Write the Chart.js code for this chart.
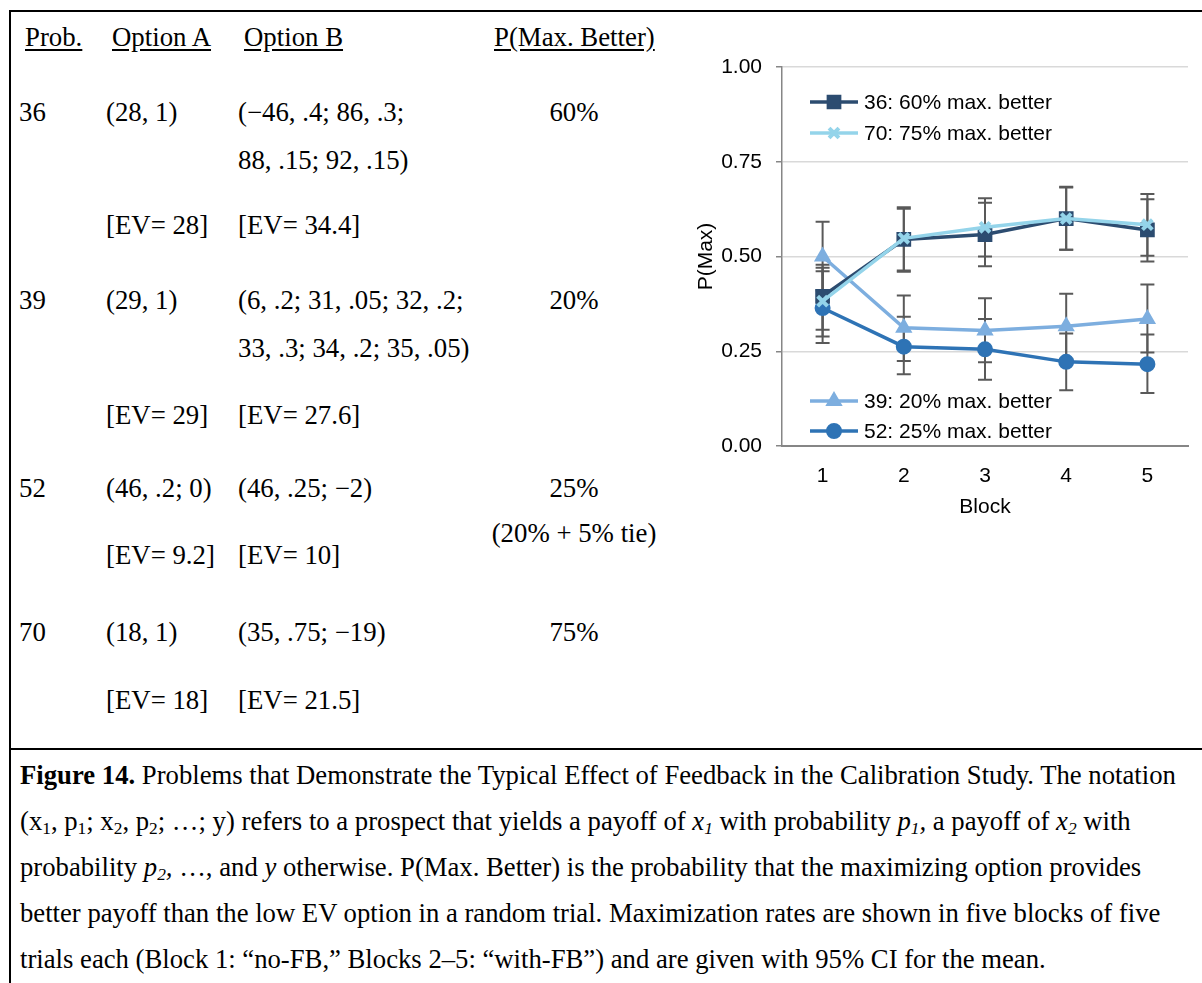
<!DOCTYPE html>
<html>
<head>
<meta charset="utf-8">
<script src="https://cdn.jsdelivr.net/npm/chart.js@4/dist/chart.umd.min.js"></script>
<style>
  body { margin: 0; background: #fff; width: 1202px; height: 983px; overflow: hidden; position: relative; }
  #frame { position: absolute; left: 9px; top: 10px; width: 1200px; height: 736px; border-left: 2px solid #000; border-top: 2px solid #000; border-bottom: 2px solid #000; }
  #capbox { position: absolute; left: 9px; top: 748px; width: 1200px; height: 240px; border-left: 2px solid #000; }
  .t { position: absolute; font-family: "Liberation Serif", "Times New Roman", serif; font-size: 26.8px; line-height: 36px; color: #000; white-space: nowrap; }
  .u { text-decoration: underline; text-underline-offset: 3px; }
  .c { transform: translateX(-50%); }
  #caption { position: absolute; left: 20px; top: 752px; font-family: "Liberation Serif", "Times New Roman", serif; font-size: 26.7px; line-height: 46px; color: #000; white-space: nowrap; }
  #caption sub { font-size: 0.65em; line-height: 0; vertical-align: -0.22em; }
  #chartBox { position: absolute; left: 690px; top: 40px; width: 512px; height: 490px; }
</style>
</head>
<body>
<div id="frame"></div>
<div id="capbox"></div>

<div class="t u" style="left:25px;top:19px">Prob.</div>
<div class="t u" style="left:112px;top:19px">Option A</div>
<div class="t u" style="left:244px;top:19px">Option B</div>
<div class="t u" style="left:494px;top:19px">P(Max. Better)</div>

<div class="t" style="left:19px;top:94px">36</div>
<div class="t" style="left:106px;top:94px">(28, 1)</div>
<div class="t" style="left:238px;top:94px">(&minus;46, .4; 86, .3;</div>
<div class="t c" style="left:574px;top:94px">60%</div>
<div class="t" style="left:238px;top:142px">88, .15; 92, .15)</div>
<div class="t" style="left:106px;top:207px">[EV= 28]</div>
<div class="t" style="left:238px;top:207px">[EV= 34.4]</div>

<div class="t" style="left:19px;top:282px">39</div>
<div class="t" style="left:106px;top:282px">(29, 1)</div>
<div class="t" style="left:238px;top:282px">(6, .2; 31, .05; 32, .2;</div>
<div class="t c" style="left:574px;top:282px">20%</div>
<div class="t" style="left:238px;top:330px">33, .3; 34, .2; 35, .05)</div>
<div class="t" style="left:106px;top:397px">[EV= 29]</div>
<div class="t" style="left:238px;top:397px">[EV= 27.6]</div>

<div class="t" style="left:19px;top:470px">52</div>
<div class="t" style="left:106px;top:470px">(46, .2; 0)</div>
<div class="t" style="left:238px;top:470px">(46, .25; &minus;2)</div>
<div class="t c" style="left:574px;top:470px">25%</div>
<div class="t c" style="left:574px;top:515px">(20% + 5% tie)</div>
<div class="t" style="left:106px;top:537px">[EV= 9.2]</div>
<div class="t" style="left:238px;top:537px">[EV= 10]</div>

<div class="t" style="left:19px;top:614px">70</div>
<div class="t" style="left:106px;top:614px">(18, 1)</div>
<div class="t" style="left:238px;top:614px">(35, .75; &minus;19)</div>
<div class="t c" style="left:574px;top:614px">75%</div>
<div class="t" style="left:106px;top:682px">[EV= 18]</div>
<div class="t" style="left:238px;top:682px">[EV= 21.5]</div>

<div id="caption"><b>Figure 14.</b> Problems that Demonstrate the Typical Effect of Feedback in the Calibration Study. The notation<br>(x<sub>1</sub>, p<sub>1</sub>; x<sub>2</sub>, p<sub>2</sub>; &hellip;; y) refers to a prospect that yields a payoff of <i>x<sub>1</sub></i> with probability <i>p<sub>1</sub>,</i> a payoff of <i>x<sub>2</sub></i> with<br>probability <i>p<sub>2</sub>,</i> &hellip;, and <i>y</i> otherwise. P(Max. Better) is the probability that the maximizing option provides<br>better payoff than the low EV option in a random trial. Maximization rates are shown in five blocks of five<br>trials each (Block 1: &ldquo;no-FB,&rdquo; Blocks 2&ndash;5: &ldquo;with-FB&rdquo;) and are given with 95% CI for the mean.</div>

<div id="chartBox"><canvas id="pmaxChart"></canvas></div>

<script>
// blocks on the x axis
const blocks = ['1', '2', '3', '4', '5'];
const yTicks = [0, 0.25, 0.5, 0.75, 1];

// series: mean P(Max) per block, with 95% CI bounds
const label36 = '36: 60% max. better';
const p36 = [0.395, 0.545, 0.558, 0.600, 0.570];
const lo36 = [0.307, 0.463, 0.474, 0.518, 0.487];
const hi36 = [0.478, 0.630, 0.642, 0.684, 0.651];

const label70 = '70: 75% max. better';
const p70 = [0.382, 0.548, 0.577, 0.600, 0.584];
const lo70 = [0.289, 0.460, 0.500, 0.518, 0.502];
const hi70 = [0.470, 0.626, 0.654, 0.682, 0.665];

const label39 = '39: 20% max. better';
const p39 = [0.500, 0.312, 0.305, 0.316, 0.335];
const lo39 = [0.410, 0.224, 0.221, 0.230, 0.247];
const hi39 = [0.592, 0.397, 0.390, 0.402, 0.426];

const label52 = '52: 25% max. better';
const p52 = [0.364, 0.262, 0.255, 0.222, 0.216];
const lo52 = [0.272, 0.189, 0.175, 0.147, 0.140];
const hi52 = [0.461, 0.341, 0.335, 0.297, 0.294];

// legend groups: top-left and bottom-left of the plot
const legendTop = [label36, label70];
const legendBottom = [label39, label52];

const col36 = '#2C4C70';
const col70 = '#94D4EA';
const col39 = '#7DAEDF';
const col52 = '#2E73B5';

const axisFont = { family: '"Liberation Sans", Arial, sans-serif', size: 21 };

function series(label, data, lo, hi, color, style, radius, bw) {
  return {
    label: label,
    data: data,
    lo: lo,
    hi: hi,
    borderColor: color,
    backgroundColor: color,
    borderWidth: 3.5,
    pointStyle: style,
    pointRadius: radius,
    pointBorderWidth: bw,
    pointBorderColor: color,
    pointBackgroundColor: color,
    tension: 0
  };
}

// draws the 95% CI whiskers under the lines
const errorBars = {
  id: 'errorBars',
  beforeDatasetsDraw(chart) {
    const ctx = chart.ctx;
    const xs = chart.scales.x, ys = chart.scales.y;
    ctx.save();
    ctx.strokeStyle = '#595959';
    ctx.lineWidth = 2;
    chart.data.datasets.forEach(ds => {
      ds.data.forEach((v, i) => {
        const x = xs.getPixelForValue(i);
        const y1 = ys.getPixelForValue(ds.lo[i]);
        const y2 = ys.getPixelForValue(ds.hi[i]);
        ctx.beginPath();
        ctx.moveTo(x, y1); ctx.lineTo(x, y2);
        ctx.moveTo(x - 7, y1); ctx.lineTo(x + 7, y1);
        ctx.moveTo(x - 7, y2); ctx.lineTo(x + 7, y2);
        ctx.stroke();
      });
    });
    ctx.restore();
  }
};

// two legend groups inside the plot, like the original
const splitLegend = {
  id: 'splitLegend',
  afterDraw(chart) {
    const ctx = chart.ctx;
    const a = chart.chartArea;
    const rows = [[legendTop[0], 35], [legendTop[1], 66], [legendBottom[0], 334], [legendBottom[1], 364]];
    ctx.save();
    rows.forEach(([lab, dy]) => {
      const ds = chart.data.datasets.find(d => d.label === lab);
      const y = a.top + dy;
      const x0 = a.left + 28;
      ctx.strokeStyle = ds.borderColor;
      ctx.lineWidth = 3.5;
      ctx.beginPath();
      ctx.moveTo(x0, y); ctx.lineTo(x0 + 48, y);
      ctx.stroke();
      ctx.lineWidth = ds.pointBorderWidth;
      ctx.fillStyle = ds.pointBackgroundColor;
      Chart.helpers.drawPoint(ctx, {
        pointStyle: ds.pointStyle,
        radius: ds.pointRadius,
        rotation: 0,
        borderWidth: ds.pointBorderWidth
      }, x0 + 24, y);
      ctx.fillStyle = '#000';
      ctx.font = '21px "Liberation Sans", Arial, sans-serif';
      ctx.textBaseline = 'middle';
      ctx.fillText(ds.label, x0 + 54, y + 1);
    });
    ctx.restore();
  }
};

new Chart(document.getElementById('pmaxChart'), {
  type: 'line',
  data: {
    labels: blocks,
    datasets: [
      series(label70, p70, lo70, hi70, col70, 'crossRot', 7, 4),
      series(label36, p36, lo36, hi36, col36, 'rect', 9, 2),
      series(label39, p39, lo39, hi39, col39, 'triangle', 8, 2),
      series(label52, p52, lo52, hi52, col52, 'circle', 7, 2)
    ]
  },
  options: {
    responsive: true,
    maintainAspectRatio: false,
    animation: false,
    layout: { padding: { top: 27, right: 14, left: 0, bottom: 0 } },
    plugins: {
      legend: { display: false },
      tooltip: { enabled: false }
    },
    scales: {
      x: {
        offset: true,
        grid: { display: false, drawTicks: false, offset: true },
        border: { display: true, color: '#868686', width: 2 },
        ticks: { color: '#000', padding: 18, font: axisFont },
        title: { display: true, text: 'Block', color: '#000', padding: { top: 0, bottom: 10 }, font: axisFont },
        afterFit(s) { s.height = 84; }
      },
      y: {
        min: 0,
        max: 1,
        afterBuildTicks(s) { s.ticks = yTicks.map(v => ({ value: v })); },
        grid: { color: '#d9d9d9', lineWidth: 1.5, tickLength: 6, tickColor: '#868686' },
        border: { display: true, color: '#868686', width: 1.5 },
        ticks: { color: '#000', padding: 14, callback: v => v.toFixed(2), font: axisFont },
        title: { display: true, text: 'P(Max)', color: '#000', padding: { top: 4, bottom: 0 }, font: axisFont },
        afterFit(s) { s.width = 92; }
      }
    }
  },
  plugins: [errorBars, splitLegend]
});
</script>
</body>
</html>
